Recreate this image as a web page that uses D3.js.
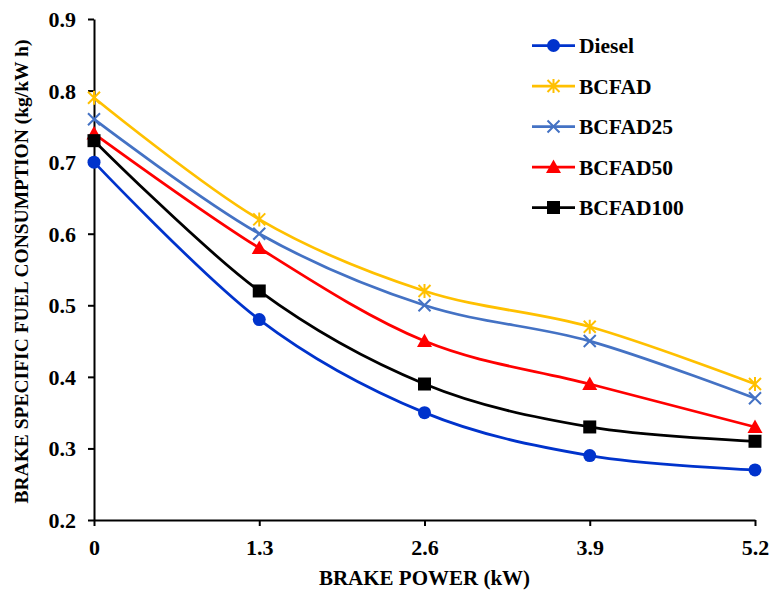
<!DOCTYPE html>
<html>
<head>
<meta charset="utf-8">
<script src="https://cdn.jsdelivr.net/npm/d3@7"></script>
<style>
  body { margin: 0; background: #fff; }
  svg text { font-family: "Liberation Serif", "Times New Roman", serif; font-weight: bold; fill: #000; }
</style>
</head>
<body>
<div id="chart"></div>
<script>
const powers = [0, 1.3, 2.6, 3.9, 5.2];
const seriesNames = ["Diesel", "BCFAD", "BCFAD25", "BCFAD50", "BCFAD100"];
const diesel = [0.70, 0.48, 0.35, 0.29, 0.27];
const bcfad = [0.79, 0.62, 0.52, 0.47, 0.39];
const bcfad25 = [0.76, 0.60, 0.50, 0.45, 0.37];
const bcfad50 = [0.74, 0.58, 0.45, 0.39, 0.33];
const bcfad100 = [0.73, 0.52, 0.39, 0.33, 0.31];
const yTicks = [0.2, 0.3, 0.4, 0.5, 0.6, 0.7, 0.8, 0.9];

const colors = ["#0033cc", "#ffc000", "#4472c4", "#ff0000", "#000000"];
const markers = ["circle", "star", "cross", "triangle", "square"];
const allValues = [diesel, bcfad, bcfad25, bcfad50, bcfad100];

const width = 771, height = 591;
const margin = { left: 94, right: 16, top: 19, bottom: 71 };

const svg = d3.select("#chart").append("svg")
  .attr("width", width)
  .attr("height", height);

const x = d3.scaleLinear().domain([0, 5.2]).range([margin.left, width - margin.right]);
const y = d3.scaleLinear().domain([0.2, 0.9]).range([height - margin.bottom, margin.top]);

// axes
const xAxis = svg.append("g")
  .attr("transform", `translate(0,${y(0.2)})`)
  .call(d3.axisBottom(x).tickValues(powers).tickFormat(d => d === 0 ? "0" : d3.format(".1f")(d)).tickSize(6).tickSizeOuter(0));
const yAxis = svg.append("g")
  .attr("transform", `translate(${x(0)},0)`)
  .call(d3.axisLeft(y).tickValues(yTicks).tickFormat(d3.format(".1f")).tickSize(6).tickSizeOuter(0));

[xAxis, yAxis].forEach(g => {
  g.attr("font-family", null).attr("font-size", null);
  g.select(".domain").attr("stroke", "#000").attr("stroke-width", 2);
  g.selectAll(".tick line").attr("stroke", "#000").attr("stroke-width", 2);
  g.selectAll(".tick text").style("font-size", "22px");
});
xAxis.selectAll(".tick text").attr("y", 19).attr("dy", "0.71em");
yAxis.selectAll(".tick text").attr("x", -18).attr("dy", "0.34em");

// axis titles
svg.append("text")
  .attr("x", (x(0) + x(5.2)) / 2)
  .attr("y", 585)
  .attr("text-anchor", "middle")
  .style("font-size", "21px")
  .text("BRAKE POWER (kW)");

svg.append("text")
  .attr("transform", `translate(28,${(y(0.2) + y(0.9)) / 2 + 2}) rotate(-90)`)
  .attr("text-anchor", "middle")
  .style("font-size", "19.5px")
  .text("BRAKE SPECIFIC FUEL CONSUMPTION (kg/kW h)");

const line = d3.line()
  .x(d => x(d[0]))
  .y(d => y(d[1]))
  .curve(d3.curveCatmullRom.alpha(0));

function drawMarker(g, type, color, cx, cy) {
  if (type === "circle") {
    g.append("circle").attr("cx", cx).attr("cy", cy).attr("r", 6.5).attr("fill", color);
  } else if (type === "square") {
    g.append("rect").attr("x", cx - 6.5).attr("y", cy - 6.5).attr("width", 13).attr("height", 13).attr("fill", color);
  } else if (type === "triangle") {
    g.append("path").attr("d", `M${cx},${cy - 7.5}L${cx + 7.5},${cy + 6}L${cx - 7.5},${cy + 6}Z`).attr("fill", color);
  } else if (type === "cross") {
    g.append("path").attr("d", `M${cx - 6},${cy - 6}L${cx + 6},${cy + 6}M${cx + 6},${cy - 6}L${cx - 6},${cy + 6}`)
      .attr("stroke", color).attr("stroke-width", 2);
  } else if (type === "star") {
    g.append("path").attr("d", `M${cx - 6},${cy - 6}L${cx + 6},${cy + 6}M${cx + 6},${cy - 6}L${cx - 6},${cy + 6}M${cx},${cy - 7}L${cx},${cy + 7}`)
      .attr("stroke", color).attr("stroke-width", 2);
  }
}

seriesNames.forEach((name, i) => {
  const pts = powers.map((p, j) => [p, allValues[i][j]]);
  const g = svg.append("g");
  g.append("path")
    .attr("d", line(pts))
    .attr("fill", "none")
    .attr("stroke", colors[i])
    .attr("stroke-width", 2.75);
  pts.forEach(p => drawMarker(g, markers[i], colors[i], x(p[0]), y(p[1])));
});

// legend
const legend = svg.append("g");
seriesNames.forEach((name, i) => {
  const ly = 45.5 + i * 40.5;
  legend.append("line")
    .attr("x1", 532).attr("x2", 575).attr("y1", ly).attr("y2", ly)
    .attr("stroke", colors[i]).attr("stroke-width", 2.75);
  drawMarker(legend, markers[i], colors[i], 553.5, ly);
  legend.append("text")
    .attr("x", 579).attr("y", ly + 7.5)
    .style("font-size", "21.5px")
    .text(name);
});
</script>
</body>
</html>
